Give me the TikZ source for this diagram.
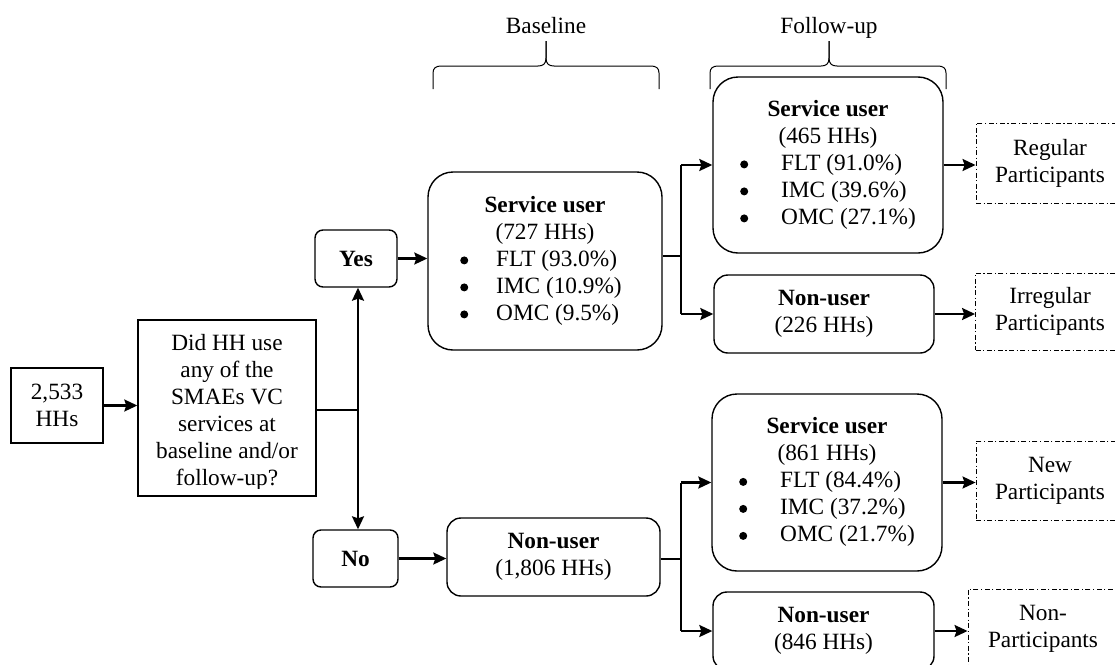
\documentclass[tikz,border=0pt]{standalone}
\usepackage{fontspec}
\setmainfont{Liberation Serif}
\usetikzlibrary{arrows.meta}
\newcommand{\bigbul}{\tikz[baseline={(0pt,-6pt)}]\fill[black] (0pt,0pt) circle (4pt);}
\begin{document}
\begin{tikzpicture}[x=1pt,y=-1pt,
  every node/.style={font=\fontsize{23.3}{27}\selectfont, inner sep=0pt, align=center},
  sqbox/.style n args={2}{draw, line width=1.4pt, minimum width=#1, minimum height=#2},
  rbox/.style n args={3}{draw, line width=1.4pt, rounded corners=#3, minimum width=#1, minimum height=#2},
  pbox/.style n args={2}{draw, line width=0.9pt, dash pattern=on 5pt off 2.5pt on 1.2pt off 2.5pt, minimum width=#1, minimum height=#2},
  conn/.style={line width=1.3pt},
  arr/.style={line width=2.1pt, -{Stealth[length=13pt,width=12pt,inset=2pt]}},
  brace/.style={line width=1pt, line join=round}]
\useasboundingbox (0,0) rectangle (1115,664);
\clip (0,0) rectangle (1115,664);

% labels and braces
\node[anchor=base] (bl) at (546,33) {Baseline};
\node[anchor=base] (fu) at (829,33) {Follow-up};
\draw[brace] (433,89) -- (433,73) .. controls (433,68) and (436,66) .. (441,66) -- (538,66) .. controls (543,66) and (546,64) .. (546,58) -- (546,41);
\draw[brace] (546,41) -- (546,58) .. controls (546,64) and (549,66) .. (554,66) -- (651,66) .. controls (656,66) and (659,68) .. (659,73) -- (659,89);
\draw[brace] (710,89) -- (710,73) .. controls (710,68) and (713,66) .. (718,66) -- (821,66) .. controls (826,66) and (829,64) .. (829,58) -- (829,41);
\draw[brace] (829,41) -- (829,58) .. controls (829,64) and (832,66) .. (837,66) -- (938,66) .. controls (943,66) and (946,68) .. (946,73) -- (946,89);

% left part
\node[sqbox={92}{75}] (n0) at (57,405.5) {2,533\\HHs};
\node[sqbox={178}{176}] (q) at (227,408) {};
\begin{scope}
  \clip (138,320) rectangle (316,488);
  \node (qt) at (227,412.5) {Did HH use\\any of the\\SMAEs VC\\services at\\baseline and/or\\follow-up?};
\end{scope}

\node[rbox={82}{57}{8pt}] (yes) at (356,258.5) {\textbf{Yes}};
\node[rbox={85}{57}{8pt}] (no) at (355.5,558.5) {\textbf{No}};

% baseline boxes
\node[rbox={234}{178}{25pt}] (su0) at (545,261) {\begin{tabular}{@{}c@{\hspace{28pt}}l@{\hspace{8pt}}}
  \multicolumn{2}{c}{\textbf{Service user}}\\
  \multicolumn{2}{c}{(727 HHs)}\\
  \bigbul & FLT (93.0\%)\\
  \bigbul & IMC (10.9\%)\\
  \bigbul & OMC (9.5\%)
\end{tabular}};
\node[rbox={213}{78}{14pt}] (nu0) at (553.5,557) {\textbf{Non-user}\\(1,806 HHs)};

% follow-up boxes
\node[rbox={230}{176}{25pt}] (su1) at (828,165) {\begin{tabular}{@{}c@{\hspace{33pt}}l@{}}
  \multicolumn{2}{c}{\textbf{Service user}}\\
  \multicolumn{2}{c}{(465 HHs)}\\
  \bigbul & FLT (91.0\%)\\
  \bigbul & IMC (39.6\%)\\
  \bigbul & OMC (27.1\%)
\end{tabular}};
\node[rbox={220}{78}{14pt}] (nu1) at (824,314) {\textbf{Non-user}\\(226 HHs)};
\node[rbox={230}{177}{25pt}] (su2) at (827,482.5) {\begin{tabular}{@{}c@{\hspace{33pt}}l@{}}
  \multicolumn{2}{c}{\textbf{Service user}}\\
  \multicolumn{2}{c}{(861 HHs)}\\
  \bigbul & FLT (84.4\%)\\
  \bigbul & IMC (37.2\%)\\
  \bigbul & OMC (21.7\%)
\end{tabular}};
\node[rbox={221}{78}{14pt}] (nu2) at (823.5,631) {\textbf{Non-user}\\(846 HHs)};

% participant categories
\node[pbox={148}{80}] (p1) at (1050,163) {Regular\\Participants};
\node[pbox={149}{77}] (p2) at (1050,311.5) {Irregular\\Participants};
\node[pbox={148}{79}] (p3) at (1050,480.5) {New\\Participants};
\node[pbox={150}{80}] (p4) at (1043,629) {Non-\\Participants};

% junctions
\coordinate (j1) at (358,410);
\coordinate (j2) at (681,256);
\coordinate (j3) at (681,559);

% connectors
\draw[arr] (n0.east) -- (n0.east -| q.west);
\draw[conn] (q.east |- j1) -- (j1);
\draw[arr] (j1) -- (j1 |- yes.south);
\draw[arr] (j1) -- (j1 |- no.north);
\draw[arr] (yes.east) -- (yes.east -| su0.west);
\draw[arr] (no.east) -- (no.east -| nu0.west);

\draw[conn] (su0.east |- j2) -- (j2);
\draw[conn] (j2 |- su1.west) -- (j2 |- nu1.west);
\draw[arr] (j2 |- su1.west) -- (su1.west);
\draw[arr] (j2 |- nu1.west) -- (nu1.west);

\draw[conn] (nu0.east |- j3) -- (j3);
\draw[conn] (j3 |- su2.west) -- (j3 |- nu2.west);
\draw[arr] (j3 |- su2.west) -- (su2.west);
\draw[arr] (j3 |- nu2.west) -- (nu2.west);

\draw[arr] (su1.east) -- (su1.east -| p1.west);
\draw[arr] (nu1.east) -- (nu1.east -| p2.west);
\draw[arr] (su2.east) -- (su2.east -| p3.west);
\draw[arr] (nu2.east) -- (nu2.east -| p4.west);
\end{tikzpicture}
\end{document}
